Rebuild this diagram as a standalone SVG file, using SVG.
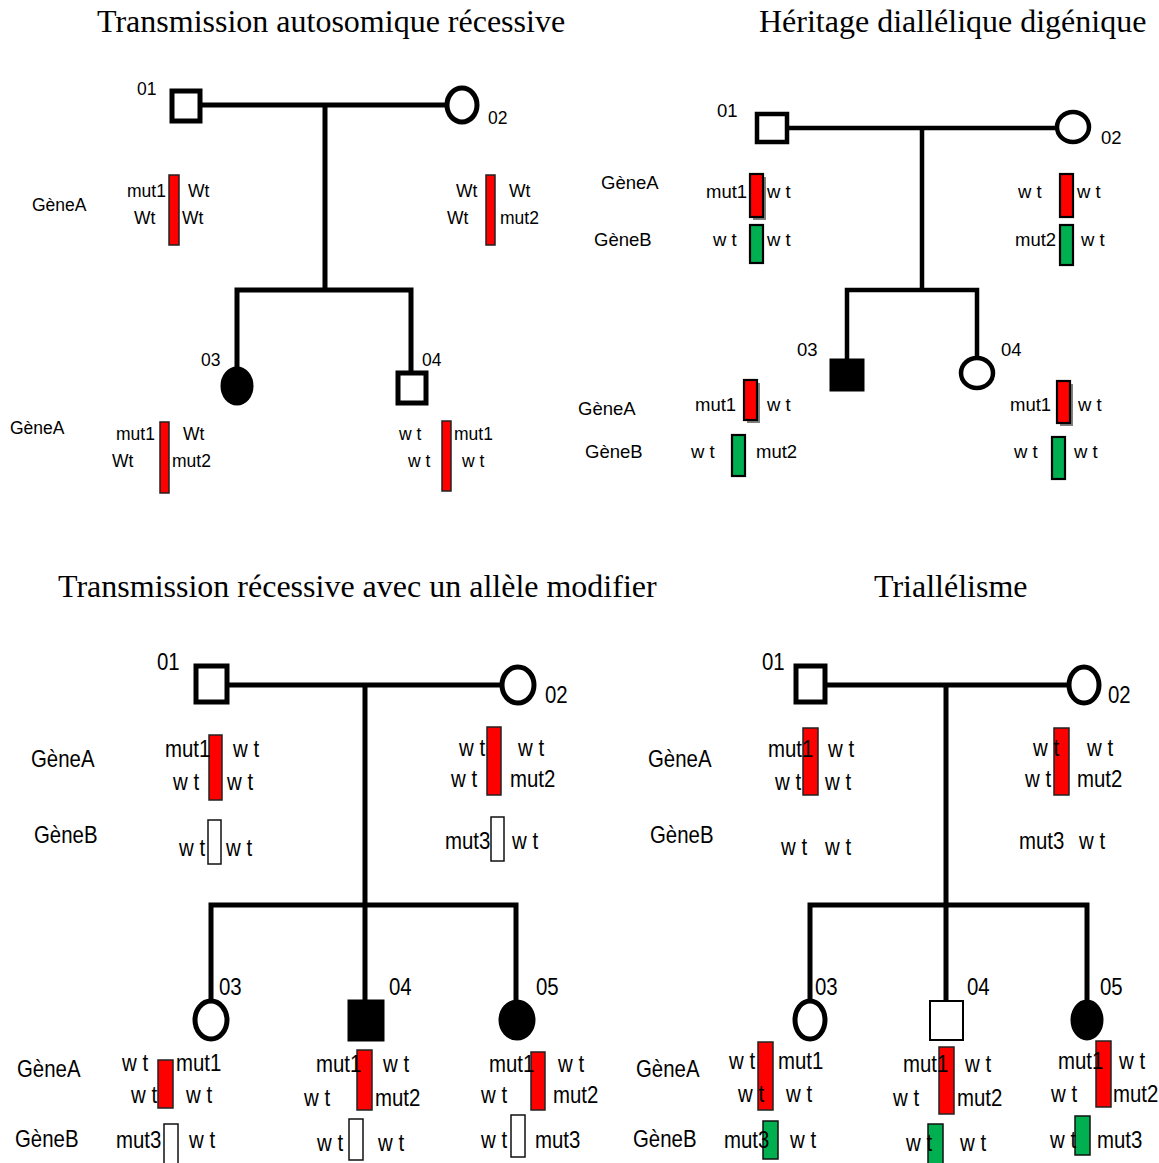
<svg xmlns="http://www.w3.org/2000/svg" width="1159" height="1163" viewBox="0 0 1159 1163">
  <style>
    .title { font-family: "Liberation Serif", "Times New Roman", serif; font-size: 32px; fill: #000; }
    .t1 { font-family: "Liberation Sans", Arial, sans-serif; font-size: 17.5px; fill: #000; }
    .t2 { font-family: "Liberation Sans", Arial, sans-serif; font-size: 18.5px; fill: #000; }
    .t3 { font-family: "Liberation Sans", Arial, sans-serif; font-size: 24px; fill: #000; }
    .line { stroke: #000; stroke-width: 5; fill: none; stroke-linecap: square; }
    .male { fill: #fff; stroke: #000; stroke-width: 5; }
    .female { fill: #fff; stroke: #000; stroke-width: 5; }
    .aff { fill: #000; stroke: #000; stroke-width: 3; }
    .red { fill: #ff0000; stroke: #222; stroke-width: 1.5; }
    .green { fill: #00b050; stroke: #111; stroke-width: 1.5; }
    .white { fill: #fff; stroke: #111; stroke-width: 1.5; }
    .shadow { fill: #808080; }
    #dg-genes .red, #dg-genes .green { stroke: #000; stroke-width: 2.2; }
  </style>

  <!-- Titles -->
  <text class="title" x="97" y="32">Transmission autosomique récessive</text>
  <text class="title" x="759" y="32">Héritage diallélique digénique</text>
  <text class="title" x="58" y="597">Transmission récessive avec un allèle modifier</text>
  <text class="title" x="874" y="597">Triallélisme</text>

  <!-- Pedigree lines -->
  <g id="connectors">
    <!-- autosomal recessive -->
    <path class="line" d="M200 105 H447 M325 105 V290 M237 290 H411 M237 290 V370 M411 290 V372"/>
    <!-- digenic -->
    <path class="line" style="stroke-width:4.5" d="M787 128 H1058 M922 128 V290 M847 290 H977 M847 290 V360 M977 290 V358"/>
    <!-- recessive with modifier -->
    <path class="line" d="M227 685 H502 M365 685 V905 M211 905 H516 M211 905 V1001 M365 905 V1000 M516 905 V1000"/>
    <!-- triallelism -->
    <path class="line" d="M825 685 H1068 M946 685 V905 M810 905 H1087 M810 905 V1001 M946 905 V1000 M1087 905 V1000"/>
  </g>

  <!-- ===== Autosomal recessive ===== -->
  <g id="ar-01">
    <rect class="male" x="172" y="91" width="28" height="30"/>
    <text class="t1" x="137" y="95">01</text>
  </g>
  <g id="ar-02">
    <ellipse class="female" cx="462" cy="105" rx="15" ry="17"/>
    <text class="t1" x="488" y="124">02</text>
  </g>
  <g id="ar-03">
    <ellipse class="aff" cx="237" cy="386" rx="15" ry="18"/>
    <text class="t1" x="201" y="366">03</text>
  </g>
  <g id="ar-04">
    <rect class="male" x="398" y="373" width="28" height="30"/>
    <text class="t1" x="422" y="366">04</text>
  </g>
  <g id="ar-genes">
    <text class="t1" x="32" y="211">GèneA</text>
    <rect class="red" x="169" y="175" width="10" height="70"/>
    <text class="t1" x="127" y="197">mut1</text>
    <text class="t1" x="188" y="197">Wt</text>
    <text class="t1" x="134" y="224">Wt</text>
    <text class="t1" x="182" y="224">Wt</text>

    <rect class="red" x="486" y="175" width="9" height="70"/>
    <text class="t1" x="456" y="197">Wt</text>
    <text class="t1" x="509" y="197">Wt</text>
    <text class="t1" x="447" y="224">Wt</text>
    <text class="t1" x="500" y="224">mut2</text>

    <text class="t1" x="10" y="434">GèneA</text>
    <rect class="red" x="160" y="422" width="9" height="71"/>
    <text class="t1" x="116" y="440">mut1</text>
    <text class="t1" x="183" y="440">Wt</text>
    <text class="t1" x="112" y="467">Wt</text>
    <text class="t1" x="172" y="467">mut2</text>

    <rect class="red" x="442" y="421" width="9" height="70"/>
    <text class="t1" x="399" y="440">w t</text>
    <text class="t1" x="454" y="440">mut1</text>
    <text class="t1" x="408" y="467">w t</text>
    <text class="t1" x="462" y="467">w t</text>
  </g>

  <!-- ===== Digenic diallelic ===== -->
  <g id="dg-01">
    <rect class="male" x="757" y="114" width="30" height="28" style="stroke-width:4.5"/>
    <text class="t2" x="717" y="117">01</text>
  </g>
  <g id="dg-02">
    <ellipse class="female" cx="1073" cy="127" rx="16" ry="15" style="stroke-width:4.5"/>
    <text class="t2" x="1101" y="144">02</text>
  </g>
  <g id="dg-03">
    <rect class="aff" x="831" y="360" width="32" height="30"/>
    <text class="t2" x="797" y="356">03</text>
  </g>
  <g id="dg-04">
    <ellipse class="female" cx="977" cy="373" rx="16" ry="15" style="stroke-width:4.5"/>
    <text class="t2" x="1001" y="356">04</text>
  </g>
  <g id="dg-genes">
    <text class="t2" x="601" y="189">GèneA</text>
    <text class="t2" x="594" y="246">GèneB</text>
    <rect class="shadow" x="753" y="177" width="13" height="43"/>
    <rect class="red" x="750" y="174" width="13" height="43"/>
    <text class="t2" x="706" y="198">mut1</text>
    <text class="t2" x="767" y="198">w t</text>
    <rect class="green" x="750" y="225" width="13" height="38"/>
    <text class="t2" x="713" y="246">w t</text>
    <text class="t2" x="767" y="246">w t</text>

    <rect class="red" x="1060" y="174" width="13" height="43"/>
    <text class="t2" x="1018" y="198">w t</text>
    <text class="t2" x="1077" y="198">w t</text>
    <rect class="green" x="1060" y="225" width="13" height="40"/>
    <text class="t2" x="1015" y="246">mut2</text>
    <text class="t2" x="1081" y="246">w t</text>

    <text class="t2" x="578" y="415">GèneA</text>
    <text class="t2" x="585" y="458">GèneB</text>
    <rect class="shadow" x="747" y="383" width="13" height="40"/>
    <rect class="red" x="744" y="380" width="13" height="40"/>
    <text class="t2" x="695" y="411">mut1</text>
    <text class="t2" x="767" y="411">w t</text>
    <rect class="green" x="732" y="435" width="13" height="41"/>
    <text class="t2" x="691" y="458">w t</text>
    <text class="t2" x="756" y="458">mut2</text>

    <rect class="shadow" x="1060" y="384" width="13" height="42"/>
    <rect class="red" x="1057" y="381" width="13" height="42"/>
    <text class="t2" x="1010" y="411">mut1</text>
    <text class="t2" x="1078" y="411">w t</text>
    <rect class="green" x="1052" y="437" width="13" height="42"/>
    <text class="t2" x="1014" y="458">w t</text>
    <text class="t2" x="1074" y="458">w t</text>
  </g>

  <!-- ===== Recessive with modifier allele ===== -->
  <g id="md-01">
    <rect class="male" x="196" y="666" width="31" height="36"/>
    <text class="t3" transform="translate(157,670) scale(0.85,1)">01</text>
  </g>
  <g id="md-02">
    <ellipse class="female" cx="518" cy="685" rx="16" ry="18"/>
    <text class="t3" transform="translate(545,703) scale(0.85,1)">02</text>
  </g>
  <g id="md-03">
    <ellipse class="female" cx="211" cy="1020" rx="16" ry="19"/>
    <text class="t3" transform="translate(219,995) scale(0.85,1)">03</text>
  </g>
  <g id="md-04">
    <rect class="aff" x="349" y="1001" width="34" height="39"/>
    <text class="t3" transform="translate(389,995) scale(0.85,1)">04</text>
  </g>
  <g id="md-05">
    <ellipse class="aff" cx="517" cy="1020" rx="17" ry="19"/>
    <text class="t3" transform="translate(536,995) scale(0.85,1)">05</text>
  </g>
  <g id="md-genes">
    <text class="t3" transform="translate(31,767) scale(0.85,1)">GèneA</text>
    <text class="t3" transform="translate(34,843) scale(0.85,1)">GèneB</text>
    <rect class="red" x="209" y="735" width="13" height="65"/>
    <text class="t3" transform="translate(165,757) scale(0.85,1)">mut1</text>
    <text class="t3" transform="translate(233,757) scale(0.85,1)">w t</text>
    <text class="t3" transform="translate(173,790) scale(0.85,1)">w t</text>
    <text class="t3" transform="translate(227,790) scale(0.85,1)">w t</text>
    <rect class="white" x="208" y="820" width="13" height="44"/>
    <text class="t3" transform="translate(179,856) scale(0.85,1)">w t</text>
    <text class="t3" transform="translate(226,856) scale(0.85,1)">w t</text>

    <rect class="red" x="487" y="727" width="14" height="68"/>
    <text class="t3" transform="translate(459,756) scale(0.85,1)">w t</text>
    <text class="t3" transform="translate(518,756) scale(0.85,1)">w t</text>
    <text class="t3" transform="translate(451,787) scale(0.85,1)">w t</text>
    <text class="t3" transform="translate(510,787) scale(0.85,1)">mut2</text>
    <rect class="white" x="491" y="817" width="13" height="44"/>
    <text class="t3" transform="translate(445,849) scale(0.85,1)">mut3</text>
    <text class="t3" transform="translate(512,849) scale(0.85,1)">w t</text>

    <text class="t3" transform="translate(17,1077) scale(0.85,1)">GèneA</text>
    <text class="t3" transform="translate(15,1147) scale(0.85,1)">GèneB</text>

    <rect class="red" x="158" y="1060" width="15" height="48"/>
    <text class="t3" transform="translate(122,1071) scale(0.85,1)">w t</text>
    <text class="t3" transform="translate(176,1071) scale(0.85,1)">mut1</text>
    <text class="t3" transform="translate(131,1103) scale(0.85,1)">w t</text>
    <text class="t3" transform="translate(186,1103) scale(0.85,1)">w t</text>
    <rect class="white" x="164" y="1124" width="14" height="42"/>
    <text class="t3" transform="translate(116,1148) scale(0.85,1)">mut3</text>
    <text class="t3" transform="translate(189,1148) scale(0.85,1)">w t</text>

    <rect class="red" x="357" y="1050" width="15" height="60"/>
    <text class="t3" transform="translate(316,1072) scale(0.85,1)">mut1</text>
    <text class="t3" transform="translate(383,1072) scale(0.85,1)">w t</text>
    <text class="t3" transform="translate(304,1106) scale(0.85,1)">w t</text>
    <text class="t3" transform="translate(375,1106) scale(0.85,1)">mut2</text>
    <rect class="white" x="349" y="1119" width="14" height="41"/>
    <text class="t3" transform="translate(317,1151) scale(0.85,1)">w t</text>
    <text class="t3" transform="translate(378,1151) scale(0.85,1)">w t</text>

    <rect class="red" x="531" y="1052" width="14" height="58"/>
    <text class="t3" transform="translate(489,1072) scale(0.85,1)">mut1</text>
    <text class="t3" transform="translate(558,1072) scale(0.85,1)">w t</text>
    <text class="t3" transform="translate(481,1103) scale(0.85,1)">w t</text>
    <text class="t3" transform="translate(553,1103) scale(0.85,1)">mut2</text>
    <rect class="white" x="511" y="1115" width="14" height="42"/>
    <text class="t3" transform="translate(481,1148) scale(0.85,1)">w t</text>
    <text class="t3" transform="translate(535,1148) scale(0.85,1)">mut3</text>
  </g>

  <!-- ===== Triallelism ===== -->
  <g id="tr-01">
    <rect class="male" x="796" y="666" width="29" height="36"/>
    <text class="t3" transform="translate(762,670) scale(0.85,1)">01</text>
  </g>
  <g id="tr-02">
    <ellipse class="female" cx="1084" cy="685" rx="15" ry="18"/>
    <text class="t3" transform="translate(1108,703) scale(0.85,1)">02</text>
  </g>
  <g id="tr-03">
    <ellipse class="female" cx="810" cy="1020" rx="15" ry="19"/>
    <text class="t3" transform="translate(815,995) scale(0.85,1)">03</text>
  </g>
  <g id="tr-04">
    <rect class="male" x="930" y="1001" width="33" height="39" style="stroke-width:2"/>
    <text class="t3" transform="translate(967,995) scale(0.85,1)">04</text>
  </g>
  <g id="tr-05">
    <ellipse class="aff" cx="1087" cy="1020" rx="15" ry="19"/>
    <text class="t3" transform="translate(1100,995) scale(0.85,1)">05</text>
  </g>
  <g id="tr-genes">
    <text class="t3" transform="translate(648,767) scale(0.85,1)">GèneA</text>
    <text class="t3" transform="translate(650,843) scale(0.85,1)">GèneB</text>
    <rect class="red" x="803" y="728" width="15" height="67"/>
    <text class="t3" transform="translate(768,757) scale(0.85,1)">mut1</text>
    <text class="t3" transform="translate(828,757) scale(0.85,1)">w t</text>
    <text class="t3" transform="translate(775,790) scale(0.85,1)">w t</text>
    <text class="t3" transform="translate(825,790) scale(0.85,1)">w t</text>
    <text class="t3" transform="translate(781,855) scale(0.85,1)">w t</text>
    <text class="t3" transform="translate(825,855) scale(0.85,1)">w t</text>

    <rect class="red" x="1054" y="728" width="15" height="67"/>
    <text class="t3" transform="translate(1033,756) scale(0.85,1)">w t</text>
    <text class="t3" transform="translate(1087,756) scale(0.85,1)">w t</text>
    <text class="t3" transform="translate(1025,787) scale(0.85,1)">w t</text>
    <text class="t3" transform="translate(1077,787) scale(0.85,1)">mut2</text>
    <text class="t3" transform="translate(1019,849) scale(0.85,1)">mut3</text>
    <text class="t3" transform="translate(1079,849) scale(0.85,1)">w t</text>

    <text class="t3" transform="translate(636,1077) scale(0.85,1)">GèneA</text>
    <text class="t3" transform="translate(633,1147) scale(0.85,1)">GèneB</text>

    <rect class="red" x="758" y="1042" width="15" height="68"/>
    <text class="t3" transform="translate(729,1069) scale(0.85,1)">w t</text>
    <text class="t3" transform="translate(778,1069) scale(0.85,1)">mut1</text>
    <text class="t3" transform="translate(738,1102) scale(0.85,1)">w t</text>
    <text class="t3" transform="translate(786,1102) scale(0.85,1)">w t</text>
    <rect class="green" x="763" y="1121" width="15" height="38"/>
    <text class="t3" transform="translate(724,1148) scale(0.85,1)">mut3</text>
    <text class="t3" transform="translate(790,1148) scale(0.85,1)">w t</text>

    <rect class="red" x="939" y="1047" width="15" height="67"/>
    <text class="t3" transform="translate(903,1072) scale(0.85,1)">mut1</text>
    <text class="t3" transform="translate(965,1072) scale(0.85,1)">w t</text>
    <text class="t3" transform="translate(893,1106) scale(0.85,1)">w t</text>
    <text class="t3" transform="translate(957,1106) scale(0.85,1)">mut2</text>
    <rect class="green" x="928" y="1124" width="15" height="42"/>
    <text class="t3" transform="translate(906,1151) scale(0.85,1)">w t</text>
    <text class="t3" transform="translate(960,1151) scale(0.85,1)">w t</text>

    <rect class="red" x="1096" y="1041" width="15" height="66"/>
    <text class="t3" transform="translate(1058,1069) scale(0.85,1)">mut1</text>
    <text class="t3" transform="translate(1119,1069) scale(0.85,1)">w t</text>
    <text class="t3" transform="translate(1051,1102) scale(0.85,1)">w t</text>
    <text class="t3" transform="translate(1113,1102) scale(0.85,1)">mut2</text>
    <rect class="green" x="1075" y="1116" width="15" height="39"/>
    <text class="t3" transform="translate(1050,1148) scale(0.85,1)">w t</text>
    <text class="t3" transform="translate(1097,1148) scale(0.85,1)">mut3</text>
  </g>
</svg>
